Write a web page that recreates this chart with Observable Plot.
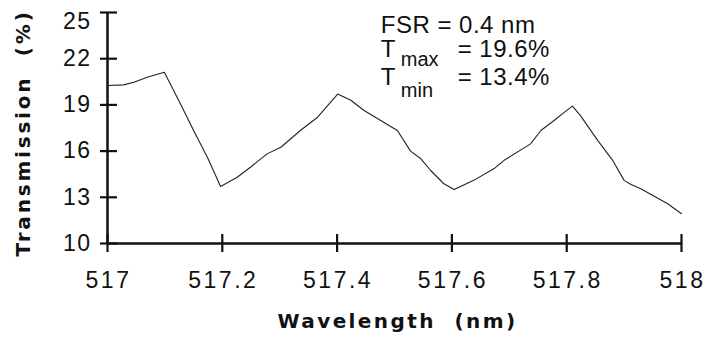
<!DOCTYPE html>
<html><head><meta charset="utf-8">
<script src="https://cdn.jsdelivr.net/npm/d3@7"></script>
<script src="https://cdn.jsdelivr.net/npm/@observablehq/plot@0.6"></script>
<style>
html,body{margin:0;padding:0;background:#fff;}
#chart svg{display:block;font-family:"Liberation Sans",Arial,Helvetica,sans-serif;}
#chart svg text{white-space:pre;}
</style></head><body><div id="chart"></div>
<script>
const wavelength = [517.000, 517.028, 517.046, 517.069, 517.099, 517.127, 517.150, 517.174, 517.197,
  517.226, 517.249, 517.278, 517.302, 517.336, 517.366, 517.401, 517.424, 517.447, 517.476,
  517.505, 517.528, 517.546, 517.563, 517.586, 517.604, 517.638, 517.673, 517.691, 517.737,
  517.755, 517.778, 517.795, 517.810, 517.824, 517.854, 517.880, 517.900, 517.912, 517.929,
  517.976, 518.000];
const transmission = [20.26, 20.3, 20.47, 20.8, 21.12, 19.07, 17.34, 15.6, 13.7,
  14.3, 14.95, 15.82, 16.25, 17.34, 18.2, 19.7, 19.3, 18.64, 17.99,
  17.34, 16.0, 15.5, 14.74, 13.88, 13.5, 14.1, 14.85, 15.4, 16.47,
  17.34, 17.99, 18.5, 18.92, 18.3, 16.7, 15.4, 14.1, 13.83, 13.55,
  12.58, 11.93];
const xTicks = [517, 517.2, 517.4, 517.6, 517.8, 518];
const xTickLabels = ["517", "517.2", "517.4", "517.6", "517.8", "518"];
const yTicks = [10, 13, 16, 19, 22, 25];
const yTickLabels = ["10", "13", "16", "19", "22", "25"];
const xTitle = "Wavelength  (nm)";
const yTitle = "Transmission  (%)";
const noteLines = ["FSR = 0.4 nm", "T", "T"];
const noteSubs = ["max", "min"];
const noteValues = ["= 19.6%", "= 13.4%"];

const data = wavelength.map((w, i) => ({w, t: transmission[i]}));
const ink = "#111";
const titleFont = '"DejaVu Sans", Verdana, sans-serif';

const chart = Plot.plot({
  width: 705,
  height: 345,
  marginLeft: 107,
  marginRight: 24,
  marginTop: 12,
  marginBottom: 102,
  style: {fontFamily: '"Liberation Sans", Arial, sans-serif', color: ink, background: "#fff"},
  x: {domain: [517, 518], axis: null},
  y: {domain: [10, 25], axis: null},
  marks: [
    // axis lines
    Plot.ruleX([517], {stroke: ink, strokeWidth: 2.5}),
    Plot.ruleY([10], {stroke: ink, strokeWidth: 2.5}),
    // crossing tick marks
    Plot.axisY(yTicks, {tickSize: 17, dx: 10, fill: "none", stroke: ink, strokeWidth: 2.2, label: null}),
    Plot.axisX(xTicks, {anchor: "bottom", tickSize: 18, dy: -9, fill: "none", stroke: ink, strokeWidth: 2.2, label: null}),
    // tick labels
    Plot.text(xTicks, {x: d => d, text: (d, i) => xTickLabels[i], frameAnchor: "bottom", lineAnchor: "top",
      textAnchor: "middle", dy: 28, dx: 1, fontSize: 23, fill: ink}),
    Plot.text(yTicks.slice(0, 5), {y: d => d, text: (d, i) => yTickLabels[i], frameAnchor: "left", textAnchor: "end",
      dx: -16, fontSize: 23, fill: ink}),
    Plot.text(yTicks.slice(5), {y: d => d, text: (d, i) => yTickLabels[5 + i], frameAnchor: "left", textAnchor: "end",
      dx: -16, dy: 9, fontSize: 23, fill: ink}),
    // axis titles
    Plot.text([xTitle], {frameAnchor: "bottom", textAnchor: "middle", dy: 84, dx: 3, fontSize: 20, fontWeight: "bold",
      fontFamily: titleFont, fill: ink}),
    Plot.text([yTitle], {frameAnchor: "left", textAnchor: "middle", rotate: -90, dx: -84, dy: 5, fontSize: 20, fontWeight: "bold",
      fontFamily: titleFont, fill: ink}),
    // data curve
    Plot.line(data, {x: "w", y: "t", stroke: "#222", strokeWidth: 1.1, curve: "linear"}),
    // annotation
    Plot.text(noteLines, {x: 517.476, y: [24.2, 22.64, 20.76], text: d => d, textAnchor: "start",
      fontSize: 24, fill: ink}),
    Plot.text(noteSubs, {x: 517.511, y: [21.95, 19.9], text: d => d, textAnchor: "start",
      fontSize: 20, fill: ink}),
    Plot.text(noteValues, {x: 517.61, y: [22.64, 20.76], text: d => d, textAnchor: "start",
      fontSize: 24, fill: ink})
  ]
});

// letter spacing to mimic the wide original typeface
d3.select(chart).selectAll("text").each(function () {
  const t = this.textContent;
  if (xTickLabels.includes(t)) this.style.letterSpacing = "2.5px";
  else if (yTickLabels.includes(t)) this.style.letterSpacing = "1.5px";
  else if (t === xTitle) this.style.letterSpacing = "2.4px";
  else if (t === yTitle) this.style.letterSpacing = "2.8px";
  else if (noteLines.includes(t) || noteValues.includes(t)) this.style.letterSpacing = "0.5px";
});
document.getElementById("chart").appendChild(chart);
</script>
</body></html>
